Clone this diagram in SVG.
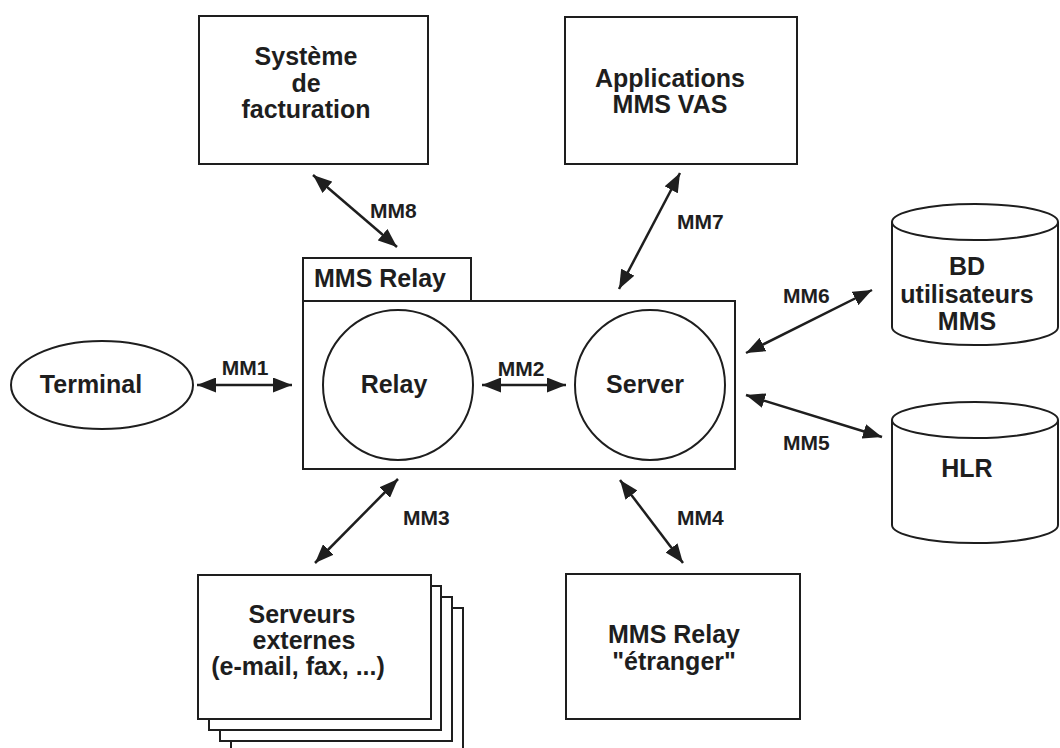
<svg xmlns="http://www.w3.org/2000/svg" width="1060" height="748" viewBox="0 0 1060 748">
  <style>
    .box { fill: #fff; stroke: #1e1e1e; stroke-width: 2; }
    .t { font-family: "Liberation Sans", Arial, Helvetica, sans-serif; font-weight: bold; font-size: 25px; fill: #1e1e1e; text-anchor: middle; }
    .lbl { font-family: "Liberation Sans", Arial, Helvetica, sans-serif; font-weight: bold; font-size: 21px; fill: #1e1e1e; }
    .link { stroke: #1e1e1e; stroke-width: 2.5; fill: none; marker-start: url(#head); marker-end: url(#head); }
  </style>
  <defs>
    <marker id="head" markerUnits="userSpaceOnUse" markerWidth="19" markerHeight="15" refX="19" refY="7.5" orient="auto-start-reverse">
      <path d="M0,0 L19,7.5 L0,15 Z" fill="#1e1e1e"/>
    </marker>
  </defs>
  <rect width="1060" height="748" fill="#fff"/>

  <!-- billing system -->
  <g id="facturation">
    <rect class="box" x="199" y="16" width="229" height="148"/>
    <text class="t" x="306" y="65">Système</text>
    <text class="t" x="306" y="92">de</text>
    <text class="t" x="306" y="118">facturation</text>
  </g>

  <!-- value added service applications -->
  <g id="vas">
    <rect class="box" x="565" y="17" width="232" height="147"/>
    <text class="t" x="670" y="87">Applications</text>
    <text class="t" x="670" y="113">MMS VAS</text>
  </g>

  <!-- user database -->
  <g id="bd">
    <path class="box" d="M892,222 L892,327 A83,18 0 0 0 1058,327 L1058,222"/>
    <ellipse class="box" cx="975" cy="222" rx="83" ry="18"/>
    <text class="t" x="967" y="275">BD</text>
    <text class="t" x="967" y="303">utilisateurs</text>
    <text class="t" x="967" y="330">MMS</text>
  </g>

  <!-- home location register -->
  <g id="hlr">
    <path class="box" d="M892,420 L892,525 A83,18 0 0 0 1058,525 L1058,420"/>
    <ellipse class="box" cx="975" cy="420" rx="83" ry="18"/>
    <text class="t" x="967" y="477">HLR</text>
  </g>

  <!-- terminal -->
  <g id="terminal">
    <ellipse class="box" cx="102" cy="385" rx="91" ry="44"/>
    <text class="t" x="91" y="393">Terminal</text>
  </g>

  <!-- MMS relay/server container -->
  <g id="mms-relay">
    <rect class="box" x="303" y="258" width="168" height="43"/>
    <rect class="box" x="303" y="301" width="432" height="168"/>
    <text class="t" x="314" y="287" style="text-anchor:start">MMS Relay</text>
  </g>
  <g id="relay">
    <circle class="box" cx="398" cy="385" r="75"/>
    <text class="t" x="394" y="393">Relay</text>
  </g>
  <g id="server">
    <circle class="box" cx="650" cy="385" r="75"/>
    <text class="t" x="645" y="393">Server</text>
  </g>

  <!-- external servers (stack) -->
  <g id="serveurs-externes">
    <rect class="box" x="231" y="608" width="232" height="150"/>
    <rect class="box" x="220" y="597" width="232" height="144"/>
    <rect class="box" x="209" y="586" width="232" height="144"/>
    <rect class="box" x="198" y="575" width="233" height="144"/>
    <text class="t" x="302" y="623">Serveurs</text>
    <text class="t" x="304" y="649">externes</text>
    <text class="t" x="298" y="675">(e-mail, fax, ...)</text>
  </g>

  <!-- foreign relay -->
  <g id="relay-etranger">
    <rect class="box" x="566" y="574" width="234" height="145"/>
    <text class="t" x="674" y="643">MMS Relay</text>
    <text class="t" x="674" y="670">"étranger"</text>
  </g>

  <!-- interfaces -->
  <g id="connectors">
    <line class="link" x1="197" y1="385" x2="292" y2="385"/>
    <text class="lbl" x="245" y="375" text-anchor="middle">MM1</text>

    <line class="link" x1="482" y1="385" x2="566" y2="385"/>
    <text class="lbl" x="521" y="376" text-anchor="middle">MM2</text>

    <line class="link" x1="398" y1="479" x2="315" y2="563"/>
    <text class="lbl" x="403" y="525">MM3</text>

    <line class="link" x1="620" y1="480" x2="683" y2="563"/>
    <text class="lbl" x="677" y="525">MM4</text>

    <line class="link" x1="746" y1="395" x2="882" y2="437"/>
    <text class="lbl" x="783" y="450">MM5</text>

    <line class="link" x1="746" y1="353" x2="872" y2="290"/>
    <text class="lbl" x="783" y="303">MM6</text>

    <line class="link" x1="680" y1="173" x2="619" y2="289"/>
    <text class="lbl" x="677" y="229">MM7</text>

    <line class="link" x1="313" y1="175" x2="397" y2="247"/>
    <text class="lbl" x="370" y="218">MM8</text>
  </g>
</svg>
